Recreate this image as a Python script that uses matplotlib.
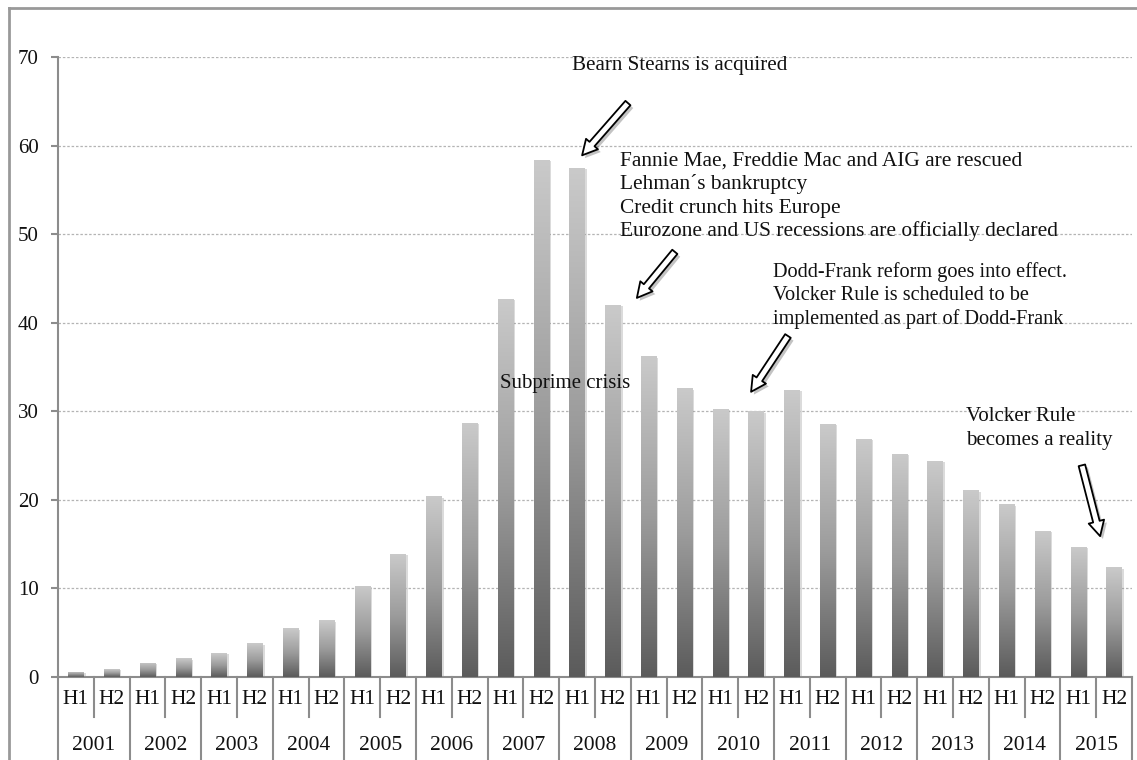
import numpy as np
import matplotlib
matplotlib.use("Agg")
import matplotlib.pyplot as plt
from matplotlib.patches import FancyArrowPatch
from matplotlib.lines import Line2D
import matplotlib.patheffects as pe
from matplotlib.colors import LinearSegmentedColormap

# ---- data -------------------------------------------------------------
years = ["2001", "2002", "2003", "2004", "2005", "2006", "2007", "2008",
         "2009", "2010", "2011", "2012", "2013", "2014", "2015"]
halves = ["H1", "H2"]
values = [0.6, 0.9, 1.6, 2.1, 2.7, 3.8, 5.5, 6.4, 10.3, 13.9,
          20.4, 28.7, 42.7, 58.4, 57.5, 42.0, 36.2, 32.6, 30.3, 30.0,
          32.4, 28.6, 26.9, 25.2, 24.4, 21.1, 19.5, 16.5, 14.7, 12.4]
y_ticks = [0, 10, 20, 30, 40, 50, 60, 70]

# event notes: (x, first baseline y, lines, alignment, font size)
notes = [
    (16.87, 68.5, ["Bearn Stearns is acquired"], "center", 15.2),
    (15.20, 57.8, ["Fannie Mae, Freddie Mac and AIG are rescued",
                   "Lehman\u00b4s bankruptcy",
                   "Credit crunch hits Europe",
                   "Eurozone and US recessions are officially declared"], "left", 15.4),
    (19.47, 45.2, ["Dodd-Frank reform goes into effect.",
                   "Volcker Rule is scheduled to be",
                   "implemented as part of Dodd-Frank"], "left", 14.6),
    (11.85, 32.6, ["Subprime crisis"], "left", 15.0),
    (24.86, 28.9, ["Volcker Rule", "becomes a reality"], "left", 15.0),
]
# arrows: (tail, head) in data units
arrows = [
    ((15.42, 64.8), (14.14, 58.9)),
    ((16.73, 48.0), (15.67, 42.8)),
    ((19.89, 38.5), (18.86, 32.2)),
    ((28.10, 23.9), (28.61, 15.9)),
]

# ---- figure -------------------------------------------------------------
W, H = 1137, 760
fig = plt.figure(figsize=(W / 100, H / 100), dpi=100)
fig.patch.set_facecolor("white")
ax = fig.add_axes([58 / W, 1 - 677 / H, (1132 - 58) / W, (677 - 57) / H])

serif = "Liberation Serif"
n = len(values)
x = np.arange(n)
bar_w = 0.43

# gridlines
for t in y_ticks[1:]:
    ax.axhline(t, color="#b4b4b4", lw=0.9, ls=(0, (2, 1.5)), zorder=0)

# bars with soft shadow, then a vertical gradient fill clipped to each bar
bars = ax.bar(x, values, width=bar_w, color="#8f8f8f", edgecolor="none", zorder=2)
for b in bars:
    b.set_path_effects([pe.SimplePatchShadow(offset=(1.5, -1.0), shadow_rgbFace="#9a9a9a", alpha=0.35),
                        pe.Normal()])

cmap = LinearSegmentedColormap.from_list("barfade", ["#5b5b5b", "#9c9c9c", "#cacaca"])
grad = np.linspace(0, 1, 256).reshape(-1, 1)
for xi, v, b in zip(x, values, bars):
    im = ax.imshow(grad, cmap=cmap, origin="lower", aspect="auto",
                   extent=(xi - bar_w / 2, xi + bar_w / 2, 0, v), zorder=3,
                   interpolation="bicubic")
    im.set_clip_path(b)
ax.set_xlim(-0.5, n - 0.5)
ax.set_ylim(0, 70)

# axes styling
for s in ["top", "right"]:
    ax.spines[s].set_visible(False)
ax.spines["left"].set_color("#8c8c8c")
ax.spines["left"].set_linewidth(1.5)
ax.spines["bottom"].set_color("#8c8c8c")
ax.spines["bottom"].set_linewidth(1.5)
ax.set_yticks(y_ticks)
ax.set_yticklabels([str(t) for t in y_ticks], fontfamily=serif, fontsize=15, color="#111111")
ax.tick_params(axis="y", length=5, width=1.5, color="#8c8c8c", pad=9)
ax.set_xticks([])

# two-level category axis
hy = (677 - 700) / 620
yy = (677 - 745) / 620
h_div = (677 - 717) / 620
y_div = (677 - 760) / 620
tr = ax.get_xaxis_transform()
for i in range(n):
    ax.text(x[i], hy, halves[i % 2], transform=tr, ha="center", va="center",
            fontfamily=serif, fontsize=15.5, color="#111111")
for j, yr in enumerate(years):
    ax.text(2 * j + 0.5, yy, yr, transform=tr, ha="center", va="center",
            fontfamily=serif, fontsize=15.5, color="#111111")
for k in range(n + 1):
    xb = k - 0.5
    bottom = y_div if k % 2 == 0 else h_div
    ax.add_line(Line2D([xb, xb], [0, bottom], transform=tr, color="#8c8c8c",
                       lw=1.5, clip_on=False))

# notes
line_step = 2.68
for nx, ny, lines, ha, fs in notes:
    for li, txt in enumerate(lines):
        ax.text(nx, ny - li * line_step, txt, ha=ha, va="baseline",
                fontfamily=serif, fontsize=fs, color="#111111", zorder=5)

# hollow block arrows
for tail, head in arrows:
    arr = FancyArrowPatch(tail, head,
                          arrowstyle="simple,head_length=0.9,head_width=0.95,tail_width=0.4",
                          mutation_scale=12, fc="white", ec="black", lw=1.3,
                          shrinkA=0, shrinkB=0, zorder=6)
    arr.set_path_effects([pe.SimplePatchShadow(offset=(2, -2), shadow_rgbFace="#7a7a7a", alpha=0.45),
                          pe.Normal()])
    ax.add_patch(arr)

# outer frame
fig.add_artist(Line2D([9 / W, 1.0], [1 - 8 / H, 1 - 8 / H], transform=fig.transFigure,
                      color="#999999", lw=2))
fig.add_artist(Line2D([9 / W, 9 / W], [0.0, 1 - 8 / H], transform=fig.transFigure,
                      color="#999999", lw=2))

fig.savefig("out.png", dpi=100, facecolor="white")
